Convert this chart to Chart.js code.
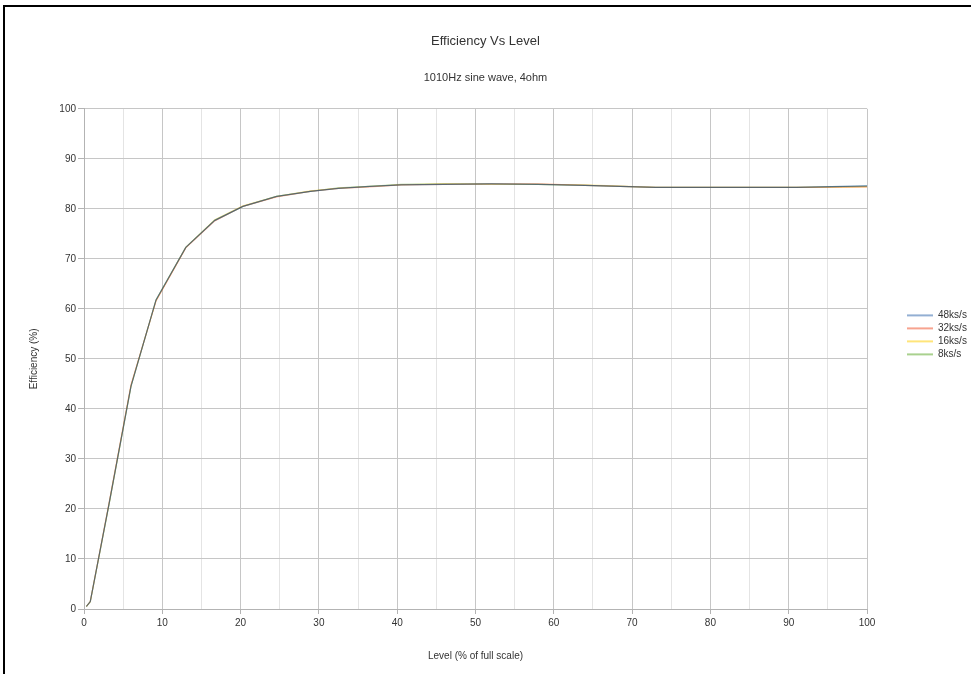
<!DOCTYPE html>
<html>
<head>
<meta charset="utf-8">
<script src="https://cdn.jsdelivr.net/npm/chart.js@4.4.1/dist/chart.umd.min.js"></script>
<style>
  html, body { margin: 0; padding: 0; background: #fff; }
  #wrap { position: relative; width: 971px; height: 674px; overflow: hidden; }
  #chart { position: absolute; left: 0; top: 0; }
  #frame {
    position: absolute; left: 3px; top: 5px; right: -10px; bottom: -10px;
    border-top: 2px solid #000; border-left: 2px solid #000;
    pointer-events: none;
  }
</style>
</head>
<body>
<div id="wrap">
  <canvas id="chart" width="971" height="674"></canvas>
  <div id="frame"></div>
</div>
<script>
'use strict';

// level in % of full scale
const levels = [0.3, 0.8, 3.2, 6.0, 9.2, 13.0, 16.7, 20.3, 24.6, 28.9, 32.5, 36.5, 40.5, 46, 52, 58, 64, 73, 82, 91, 100];

// efficiency (%) per sample rate
const eff48 = [0.5, 1.5, 21.0, 44.5, 61.8, 72.3, 77.7, 80.5, 82.5, 83.5, 84.1, 84.5, 84.8, 84.9, 85.0, 84.9, 84.7, 84.3, 84.3, 84.3, 84.6];
const eff32 = [0.5, 1.5, 21.2, 44.8, 61.6, 72.2, 77.6, 80.5, 82.4, 83.5, 84.1, 84.4, 84.8, 84.9, 85.0, 85.0, 84.7, 84.3, 84.3, 84.3, 84.4];
const eff16 = [0.5, 1.5, 21.0, 44.6, 61.7, 72.3, 77.8, 80.6, 82.5, 83.6, 84.1, 84.5, 84.8, 85.0, 84.9, 84.9, 84.8, 84.3, 84.3, 84.3, 84.4];
const eff8  = [0.5, 1.4, 20.9, 44.5, 61.8, 72.3, 77.7, 80.5, 82.5, 83.5, 84.2, 84.5, 84.9, 85.0, 85.0, 84.9, 84.7, 84.3, 84.3, 84.3, 84.5];

const seriesNames = ['48ks/s', '32ks/s', '16ks/s', '8ks/s'];
const seriesData = [eff48, eff32, eff16, eff8];

// lines overlap almost everywhere, so they are semi transparent
const COLORS = ['rgba(0,69,134,.6)', 'rgba(255,66,14,.4)', 'rgba(255,211,32,.45)', 'rgba(87,157,28,.45)'];
// legend samples look paler in the original
const LEGEND_COLORS = ['#93afd3', '#f7a38f', '#ffe57a', '#a9d18e'];

const FONT = '"Liberation Sans", Arial, sans-serif';
Chart.defaults.font.family = FONT;
Chart.defaults.color = '#333';

const datasets = seriesNames.map((name, i) => ({
  label: name,
  data: levels.map((x, j) => ({ x: x, y: seriesData[i][j] })),
  borderColor: COLORS[i],
  backgroundColor: COLORS[i],
  borderWidth: 1.2,
  pointRadius: 0,
  pointStyle: 'line',
  tension: 0,
  fill: false
}));

new Chart(document.getElementById('chart'), {
  type: 'line',
  data: { datasets },
  options: {
    responsive: false,
    animation: false,
    layout: { padding: { left: 0, right: 0, top: 0, bottom: 0 } },
    plugins: {
      title: {
        display: true,
        text: 'Efficiency Vs Level',
        font: { size: 13, weight: 'normal' },
        color: '#333',
        padding: { top: 34, bottom: 0 }
      },
      subtitle: {
        display: true,
        text: '1010Hz sine wave, 4ohm',
        font: { size: 11 },
        color: '#333',
        padding: { top: 22, bottom: 24 }
      },
      legend: {
        position: 'right',
        align: 'start',
        maxWidth: 67,
        title: { display: true, text: '', padding: { top: 293, bottom: 0 } },
        labels: {
          usePointStyle: true,
          pointStyleWidth: 26,
          boxHeight: 10,
          padding: 3,
          color: '#333',
          font: { size: 10 },
          generateLabels: chart => {
            const items = Chart.defaults.plugins.legend.labels.generateLabels(chart);
            items.forEach((it, i) => {
              it.strokeStyle = LEGEND_COLORS[i];
              it.fillStyle = LEGEND_COLORS[i];
              it.lineWidth = 2;
            });
            return items;
          }
        }
      },
      tooltip: { enabled: false }
    },
    scales: {
      x: {
        type: 'linear',
        min: 0, max: 100,
        ticks: {
          stepSize: 5,
          padding: 3,
          color: '#333',
          font: { size: 10 },
          maxRotation: 0,
          callback: v => (v % 10 === 0 ? v : '')
        },
        grid: {
          color: c => (c.tick && c.tick.value % 10 === 0 ? '#c6c6c6' : '#e4e4e4'),
          tickColor: c => (c.tick && c.tick.value % 10 === 0 ? '#b3b3b3' : 'rgba(0,0,0,0)'),
          tickLength: 5
        },
        border: { color: '#b3b3b3' },
        title: {
          display: true,
          text: 'Level (% of full scale)',
          font: { size: 10 },
          color: '#333',
          padding: { top: 4, bottom: 12 }
        },
        afterFit: s => { s.height = 65; }
      },
      y: {
        min: 0, max: 100,
        ticks: { stepSize: 10, padding: 2, color: '#333', font: { size: 10 } },
        grid: { color: '#c6c6c6', tickColor: '#b3b3b3', tickLength: 6 },
        border: { color: '#b3b3b3' },
        title: {
          display: true,
          text: 'Efficiency (%)',
          font: { size: 10 },
          color: '#333',
          padding: { top: 28, bottom: 4 }
        },
        afterFit: s => { s.width = 84; }
      },
      // empty spacer between the plot and the legend
      gap: {
        position: 'right',
        display: true,
        grid: { display: false, drawTicks: false },
        ticks: { display: false },
        border: { display: false },
        afterFit: s => { s.width = 37; }
      }
    }
  }
});
</script>
</body>
</html>
